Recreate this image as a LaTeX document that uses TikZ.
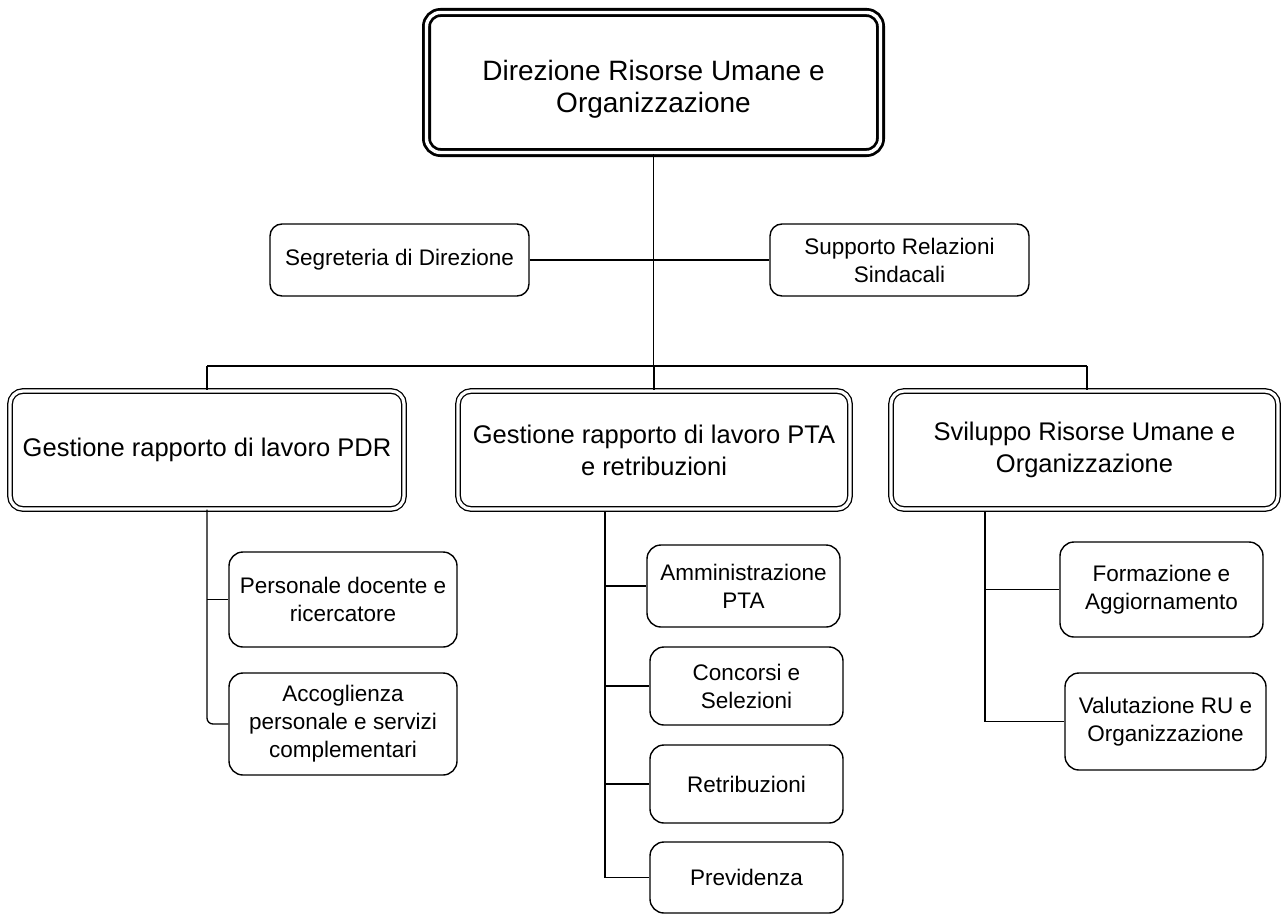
\documentclass[tikz,border=0pt]{standalone}
\usepackage{fontspec}
\setmainfont{Liberation Sans}
\begin{document}
\begin{tikzpicture}[x=1pt,y=-1pt,
  headbox/.style={draw=black, line width=2.8pt, double=white, double distance=3.4pt,
    rounded corners=14pt, inner sep=0pt},
  headtext/.style={inner sep=0pt, align=center, font=\fontsize{28}{32}\selectfont},
  areabox/.style={draw=black, line width=1.3pt, double=white, double distance=3.2pt,
    rounded corners=13pt, inner sep=0pt, align=center,
    font=\fontsize{25.5}{32}\selectfont, minimum height=118pt},
  unitbox/.style={draw=black, line width=1.4pt, rounded corners=14pt,
    inner sep=0pt, align=center, font=\fontsize{22.5}{28}\selectfont},
  staffbox/.style={unitbox, rounded corners=12pt, minimum width=259pt, minimum height=72pt},
  link/.style={draw=black, line width=1.3pt}]
\useasboundingbox (0,0) rectangle (1284,915);

% head of the directorate: frame, then its title set a little low
\node[headbox, minimum width=454pt, minimum height=140pt] (top) at (653.5,82.5) {};
\node[headtext] (toptitle) at (653.5,89.5) {Direzione Risorse Umane e\\Organizzazione};

% staff offices
\node[staffbox] (seg) at (399.5,260) {Segreteria di Direzione};
\node[staffbox] (sup) at (899.5,260) {Supporto Relazioni\\Sindacali};

% areas
\node[areabox, minimum width=394pt] (pdr) at (207,450) {Gestione rapporto di lavoro PDR};
\node[areabox, minimum width=392pt] (pta) at (654,450) {Gestione rapporto di lavoro PTA\\e retribuzioni};
\node[areabox, minimum width=387pt] (sru) at (1084.5,450) {Sviluppo Risorse Umane e\\Organizzazione};

% offices of the PDR area
\node[unitbox, minimum width=228pt, minimum height=95pt] (pers) at (343,599.5) {Personale docente e\\ricercatore};
\node[unitbox, minimum width=228pt, minimum height=102pt] (acc) at (343,724) {Accoglienza\\personale e servizi\\complementari};

% offices of the PTA area
\node[unitbox, minimum width=193pt, minimum height=82pt] (amm) at (743.5,586) {Amministrazione\\PTA};
\node[unitbox, minimum width=193pt, minimum height=78pt] (conc) at (746.5,686) {Concorsi e\\Selezioni};
\node[unitbox, minimum width=193pt, minimum height=78pt] (retr) at (746.5,784) {Retribuzioni};
\node[unitbox, minimum width=193pt, minimum height=71pt] (prev) at (746.5,877.5) {Previdenza};

% offices of the HR development area
\node[unitbox, minimum width=203pt, minimum height=95pt] (form) at (1161.5,589.5) {Formazione e\\Aggiornamento};
\node[unitbox, minimum width=201pt, minimum height=97pt] (val) at (1165.5,721.5) {Valutazione RU e\\Organizzazione};

% bus and branch points
\coordinate (busL) at (207,366);
\coordinate (busR) at (1087,366);
\coordinate (ptaX) at (605,512);
\coordinate (sruX) at (985,512);

% head to staff and to areas
\draw[link] (top.south) -- (top.south |- busL);
\draw[link] (seg.east) -- (sup.west);
\draw[link] (busL) -- (busR);
\draw[link] (busL) -- (busL |- pdr.north);
\draw[link] (pta.north |- busL) -- (pta.north);
\draw[link] (busR) -- (busR |- sru.north);

% PDR area branches
\draw[link, rounded corners=6pt] (busL |- pdr.south) |- (acc.west);
\draw[link] (busL |- pers.west) -- (pers.west);

% PTA area branches
\draw[link] (ptaX) |- (prev.west);
\draw[link] (ptaX |- amm.west) -- (amm.west);
\draw[link] (ptaX |- conc.west) -- (conc.west);
\draw[link] (ptaX |- retr.west) -- (retr.west);

% HR development branches
\draw[link] (sruX) |- (val.west);
\draw[link] (sruX |- form.west) -- (form.west);
\end{tikzpicture}
\end{document}
